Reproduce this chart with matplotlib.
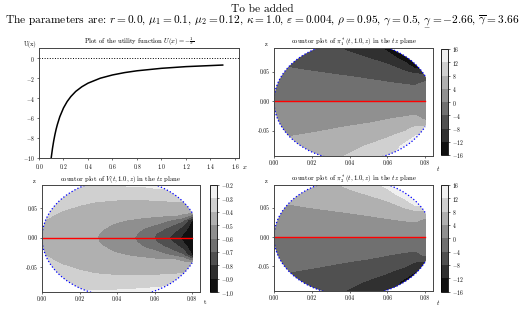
import numpy as np
import matplotlib
matplotlib.use('Agg')
import matplotlib.pyplot as plt
from matplotlib.patches import Ellipse, Arc
from matplotlib.ticker import FormatStrFormatter
from matplotlib.mathtext import MathTextParser

plt.rcParams['font.family'] = 'serif'
plt.rcParams['font.serif'] = ['cmr10']
plt.rcParams['mathtext.fontset'] = 'cm'
plt.rcParams['axes.formatter.use_mathtext'] = True
plt.rcParams['axes.unicode_minus'] = True

# utility curve U(x) = -1/x
x_u = [0.10, 0.11, 0.12, 0.13, 0.14, 0.15, 0.17, 0.20, 0.23, 0.26, 0.30, 0.35, 0.40,
       0.50, 0.60, 0.70, 0.80, 1.00, 1.20, 1.50]
u_val = [-10.0, -9.09, -8.33, -7.69, -7.14, -6.67, -5.88, -5.0, -4.35, -3.85, -3.33,
         -2.86, -2.5, -2.0, -1.67, -1.43, -1.25, -1.0, -0.83, -0.67]

# pi grids (t, z)
t_pi = [0.0, 0.01, 0.02, 0.03, 0.04, 0.05, 0.06, 0.065, 0.07, 0.075, 0.08]
z_pi = [-0.1, -0.075, -0.06, -0.045, -0.03, -0.015, 0.0, 0.015, 0.03, 0.045, 0.06, 0.075, 0.1]

pi1_vals = [
    [5.7, 6.2, 6.8, 7.6, 8.9, 10.5, 12.2, 14.2, 15.7, 15.9, 15.9],
    [4.6, 5.0, 5.6, 6.2, 7.1, 8.2, 9.7, 10.9, 13.5, 15.5, 15.9],
    [3.8, 4.1, 4.5, 5.0, 5.7, 6.6, 7.8, 8.7, 9.7, 12.4, 14.0],
    [2.8, 3.0, 3.4, 3.8, 4.3, 4.9, 5.8, 6.5, 7.2, 8.6, 9.0],
    [1.9, 2.0, 2.3, 2.5, 2.9, 3.2, 3.9, 4.3, 4.7, 5.2, 3.4],
    [0.9, 1.0, 1.1, 1.3, 1.4, 1.6, 1.9, 2.1, 2.3, 2.5, 1.7],
    [0.0, 0.0, 0.0, 0.0, 0.0, 0.0, 0.0, 0.0, 0.0, 0.0, 0.0],
    [-1.0, -1.1, -1.2, -1.3, -1.4, -1.6, -1.8, -2.0, -2.1, -2.2, -1.6],
    [-1.9, -2.2, -2.4, -2.6, -2.9, -3.2, -3.7, -4.0, -4.3, -4.6, -3.2],
    [-2.9, -3.3, -3.6, -3.9, -4.3, -4.9, -5.7, -6.2, -6.8, -7.6, -7.6],
    [-3.9, -4.3, -4.7, -5.2, -5.8, -6.6, -7.6, -8.7, -10.7, -14.5, -15.9],
    [-4.8, -5.3, -5.8, -6.4, -7.2, -8.3, -10.3, -12.5, -15.0, -15.9, -15.9],
    [-6.1, -6.8, -7.6, -8.3, -9.8, -11.9, -15.2, -15.9, -15.9, -15.9, -15.9],
]

pi2_vals = [
    [-5.7, -6.2, -6.8, -7.6, -8.9, -10.5, -12.2, -14.2, -15.7, -15.9, -15.9],
    [-4.6, -5.0, -5.6, -6.2, -7.1, -8.2, -9.7, -10.9, -13.5, -15.5, -15.9],
    [-3.8, -4.1, -4.5, -5.0, -5.7, -6.6, -7.8, -8.7, -9.7, -12.4, -14.0],
    [-2.8, -3.0, -3.4, -3.8, -4.3, -4.9, -5.8, -6.5, -7.2, -8.6, -9.0],
    [-1.9, -2.0, -2.3, -2.5, -2.9, -3.2, -3.9, -4.3, -4.7, -5.2, -3.4],
    [-0.9, -1.0, -1.1, -1.3, -1.4, -1.6, -1.9, -2.1, -2.3, -2.5, -1.7],
    [0.0, 0.0, 0.0, 0.0, 0.0, 0.0, 0.0, 0.0, 0.0, 0.0, 0.0],
    [1.0, 1.1, 1.2, 1.3, 1.4, 1.6, 1.8, 2.0, 2.1, 2.2, 1.6],
    [1.9, 2.2, 2.4, 2.6, 2.9, 3.2, 3.7, 4.0, 4.3, 4.6, 3.2],
    [2.9, 3.3, 3.6, 3.9, 4.3, 4.9, 5.7, 6.2, 6.8, 7.6, 7.6],
    [3.9, 4.3, 4.7, 5.2, 5.8, 6.6, 7.6, 8.7, 10.7, 14.5, 15.9],
    [4.8, 5.3, 5.8, 6.4, 7.2, 8.3, 10.3, 12.5, 15.0, 15.9, 15.9],
    [6.1, 6.8, 7.6, 8.3, 9.8, 11.9, 15.2, 15.9, 15.9, 15.9, 15.9],
]

# V grid (t, z)
t_V = [0.0, 0.01, 0.02, 0.03, 0.04, 0.05, 0.055, 0.06, 0.065, 0.07, 0.075, 0.08]
z_V = [-0.1, -0.075, -0.06, -0.045, -0.0375, -0.03, -0.0225, -0.015, -0.0075, 0.0,
       0.0075, 0.015, 0.0225, 0.03, 0.0375, 0.045, 0.06, 0.075, 0.1]

V_vals = [
    [-0.25, -0.265, -0.27, -0.26, -0.25, -0.24, -0.24, -0.23, -0.23, -0.22, -0.21, -0.21],
    [-0.30, -0.325, -0.342, -0.352, -0.36, -0.355, -0.35, -0.34, -0.335, -0.315, -0.29, -0.28],
    [-0.33, -0.36, -0.39, -0.405, -0.415, -0.42, -0.42, -0.42, -0.415, -0.41, -0.41, -0.40],
    [-0.36, -0.40, -0.42, -0.43, -0.45, -0.46, -0.46, -0.465, -0.465, -0.465, -0.47, -0.45],
    [-0.38, -0.415, -0.435, -0.445, -0.47, -0.48, -0.485, -0.49, -0.495, -0.495, -0.525, -0.65],
    [-0.395, -0.43, -0.447, -0.46, -0.49, -0.51, -0.52, -0.54, -0.575, -0.615, -0.68, -0.90],
    [-0.415, -0.445, -0.46, -0.475, -0.51, -0.55, -0.575, -0.595, -0.64, -0.695, -0.77, -0.95],
    [-0.44, -0.455, -0.472, -0.488, -0.53, -0.575, -0.61, -0.655, -0.70, -0.75, -0.84, -0.97],
    [-0.455, -0.462, -0.478, -0.498, -0.545, -0.595, -0.64, -0.69, -0.74, -0.805, -0.895, -0.985],
    [-0.46, -0.465, -0.48, -0.502, -0.55, -0.605, -0.655, -0.705, -0.76, -0.83, -0.925, -0.99],
    [-0.455, -0.462, -0.478, -0.498, -0.545, -0.595, -0.64, -0.69, -0.74, -0.805, -0.895, -0.985],
    [-0.44, -0.455, -0.472, -0.488, -0.53, -0.575, -0.61, -0.655, -0.70, -0.75, -0.84, -0.97],
    [-0.415, -0.445, -0.46, -0.475, -0.51, -0.55, -0.575, -0.595, -0.64, -0.695, -0.77, -0.95],
    [-0.395, -0.43, -0.447, -0.46, -0.49, -0.51, -0.52, -0.54, -0.575, -0.615, -0.68, -0.90],
    [-0.38, -0.415, -0.435, -0.445, -0.47, -0.48, -0.485, -0.49, -0.495, -0.495, -0.525, -0.65],
    [-0.36, -0.40, -0.42, -0.43, -0.45, -0.46, -0.46, -0.465, -0.465, -0.465, -0.47, -0.45],
    [-0.33, -0.36, -0.39, -0.405, -0.415, -0.42, -0.42, -0.42, -0.415, -0.41, -0.41, -0.40],
    [-0.30, -0.325, -0.342, -0.352, -0.36, -0.355, -0.35, -0.34, -0.335, -0.315, -0.29, -0.28],
    [-0.25, -0.265, -0.27, -0.26, -0.25, -0.24, -0.24, -0.23, -0.23, -0.22, -0.21, -0.21],
]

pi_levels = [-16, -12, -8, -4, 0, 4, 8, 12, 16]
V_levels = [-1.0, -0.9, -0.8, -0.7, -0.6, -0.5, -0.4, -0.3, -0.2]

# domain: ellipse cut at t = T_end
t_c, t_a, z_b, T_end = 0.042, 0.042, 0.1, 0.08
z_end = z_b * np.sqrt(1 - ((T_end - t_c) / t_a) ** 2)
theta_end = np.degrees(np.arctan2(z_end, T_end - t_c))

tick_fs = 4
title_fs = 4.8

gam_low = r'\underline{\gamma}'
try:
    MathTextParser('path').parse('$' + gam_low + '$')
except Exception:
    gam_low = r'\underset{-}{\gamma}'

fig = plt.figure(figsize=(5.24, 3.24), dpi=100)
fig.text(0.5, 0.972, 'To be added', ha='center', va='center', fontsize=8.2)
fig.text(0.5, 0.935, r'The parameters are: $r=0.0$, $\mu_1=0.1$, $\mu_2=0.12$, $\kappa=1.0$, '
         r'$\varepsilon=0.004$, $\rho=0.95$, $\gamma=0.5$, $' + gam_low + r'=-2.66$, '
         r'$\overline{\gamma}=3.66$', ha='center', va='center', fontsize=8.2)


def style_ax(ax):
    ax.tick_params(labelsize=tick_fs, length=1.5, width=0.4, pad=1.5)
    for s in ax.spines.values():
        s.set_linewidth(0.7)
        s.set_color('#444444')


# top left: utility function
ax1 = fig.add_axes([39 / 524, 1 - 157.5 / 324, 200 / 524, 109.5 / 324])
ax1.plot(x_u, u_val, color='black', linewidth=1.1)
ax1.axhline(0, color='black', linestyle=':', linewidth=0.7)
ax1.set_xlim(0, 1.633)
ax1.set_ylim(-10, 1.05)
ax1.set_xticks([0.0, 0.2, 0.4, 0.6, 0.8, 1.0, 1.2, 1.4, 1.6])
ax1.set_yticks([0, -2, -4, -6, -8, -10])
ax1.set_title(r'Plot of the utility function $U(x) = -\frac{1}{x}$', fontsize=title_fs, pad=2)
ax1.set_ylabel('U(x)', rotation=0, fontsize=4.5)
ax1.yaxis.set_label_coords(-0.045, 1.0)
ax1.set_xlabel('$x$', fontsize=4.8)
ax1.xaxis.set_label_coords(1.03, -0.06)
style_ax(ax1)


def contour_panel(rect, crect, tg, zg, vals, levels, title, tlabel):
    ax = fig.add_axes(rect)
    cs = ax.contourf(tg, zg, np.array(vals), levels=levels, cmap='gray')
    clip = Ellipse((t_c, 0), 2 * t_a, 2 * z_b, transform=ax.transData,
                   facecolor='none', edgecolor='none')
    ax.add_patch(clip)
    cs.set_clip_path(clip)
    edge = Arc((t_c, 0), 2 * t_a, 2 * z_b, theta1=theta_end, theta2=360 - theta_end,
               edgecolor='blue', linestyle=':', linewidth=0.9)
    ax.add_patch(edge)
    ax.plot([0, T_end], [0, 0], color='red', linewidth=1.0)
    ax.set_xlim(0, 0.0842)
    ax.set_ylim(-0.092, 0.0895)
    ax.set_xticks([0.0, 0.02, 0.04, 0.06, 0.08])
    ax.set_yticks([-0.05, 0.0, 0.05])
    ax.xaxis.set_major_formatter(FormatStrFormatter('%.2f'))
    ax.yaxis.set_major_formatter(FormatStrFormatter('%.2f'))
    ax.set_title(title, fontsize=title_fs, pad=2)
    ax.set_ylabel('z', rotation=0, fontsize=4.5)
    ax.yaxis.set_label_coords(-0.05, 1.01)
    ax.set_xlabel(tlabel, fontsize=4.8)
    ax.xaxis.set_label_coords(1.03, -0.07)
    style_ax(ax)
    cax = fig.add_axes(crect)
    cb = fig.colorbar(cs, cax=cax, ticks=levels)
    cb.ax.tick_params(labelsize=tick_fs, length=1.5, width=0.4, pad=1.5)
    cb.outline.set_linewidth(0.6)
    return ax


contour_panel([274 / 524, 1 - 156 / 324, 159 / 524, 108 / 324],
              [441 / 524, 1 - 155 / 324, 7 / 524, 106 / 324],
              t_pi, z_pi, pi1_vals, pi_levels,
              r'countor plot of $\pi_1^*(t, 1.0, z)$ in the $tz$ plane', '$t$')
contour_panel([42 / 524, 1 - 292 / 324, 158 / 524, 107 / 324],
              [210 / 524, 1 - 292 / 324, 6.5 / 524, 107 / 324],
              t_V, z_V, V_vals, V_levels,
              r'countor plot of $V(t, 1.0, z)$ in the $tz$ plane', 't')
contour_panel([274 / 524, 1 - 291 / 324, 159 / 524, 106 / 324],
              [441 / 524, 1 - 291.5 / 324, 7 / 524, 106.5 / 324],
              t_pi, z_pi, pi2_vals, pi_levels,
              r'countor plot of $\pi_2^*(t, 1.0, z)$ in the $tz$ plane', '$t$')

fig.savefig('out.png', dpi=100)
